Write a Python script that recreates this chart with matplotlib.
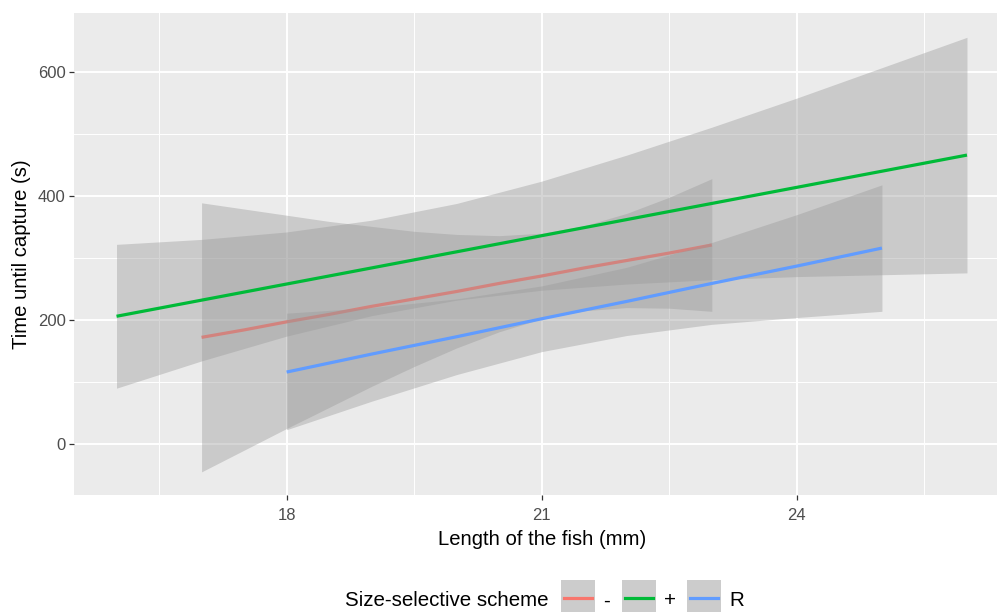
import numpy as np
import matplotlib
matplotlib.use("Agg")
import matplotlib.pyplot as plt
from matplotlib.patches import Rectangle
from matplotlib.lines import Line2D

plt.rcParams['font.family'] = ['Liberation Sans', 'DejaVu Sans']

len_minus = [17, 17.5, 18, 18.5, 19, 19.5, 20, 20.5, 21, 21.5, 22, 22.5, 23]
fit_minus = [172, 184, 197, 209, 222, 234, 246, 259, 271, 284, 296, 308, 321]
lo_minus = [-45, -10, 25, 59, 93, 125, 155, 181, 202, 215, 220, 219, 214]
hi_minus = [389, 379, 369, 359, 351, 343, 338, 336, 340, 352, 372, 398, 428]

len_plus = [16, 17, 18, 19, 20, 21, 22, 23, 24, 25, 26]
fit_plus = [206, 232, 258, 284, 310, 336, 362, 388, 414, 440, 466]
lo_plus = [90, 134, 174, 207, 232, 248, 258, 265, 270, 273, 276]
hi_plus = [322, 330, 342, 361, 388, 424, 466, 511, 558, 607, 656]

len_r = [18, 19, 20, 21, 22, 23, 24, 25]
fit_r = [116, 145, 173, 202, 230, 259, 287, 316]
lo_r = [23, 69, 112, 149, 175, 193, 204, 214]
hi_r = [211, 220, 234, 255, 285, 325, 370, 418]

groups = [
    ('-', '#F8766D', len_minus, fit_minus, lo_minus, hi_minus),
    ('+', '#00BA38', len_plus, fit_plus, lo_plus, hi_plus),
    ('R', '#619CFF', len_r, fit_r, lo_r, hi_r),
]

x_major = [18, 21, 24]
x_minor = [16.5, 19.5, 22.5, 25.5]
y_major = [0, 200, 400, 600]
y_minor = [100, 300, 500]

W, H = 997, 612
fig = plt.figure(figsize=(W / 100, H / 100), dpi=100)
ax = fig.add_axes([74 / W, 1 - 495 / H, 935.5 / W, 482 / H])
ax.set_facecolor('#EBEBEB')
for s in ax.spines.values():
    s.set_visible(False)

for v in x_minor:
    ax.axvline(v, color='white', lw=0.7, zorder=0)
for v in y_minor:
    ax.axhline(v, color='white', lw=0.7, zorder=0)
for v in x_major:
    ax.axvline(v, color='white', lw=1.4, zorder=0)
for v in y_major:
    ax.axhline(v, color='white', lw=1.4, zorder=0)

# ribbon then line per group, in factor order
for name, col, xs, fit, lo, hi in groups:
    ax.fill_between(xs, lo, hi, color='#999999', alpha=0.4, lw=0, zorder=2)
    ax.plot(xs, fit, color=col, lw=2.3, zorder=2, solid_capstyle='butt')

ax.set_xlim(15.5, 26.5)
ax.set_ylim(-82.3, 695.2)
ax.set_xticks(x_major)
ax.set_yticks(y_major)
ax.tick_params(length=3.5, width=0.9, color='#333333', labelcolor='#4D4D4D',
               labelsize=12)
ax.tick_params(axis='x', pad=6)
ax.tick_params(axis='y', pad=2.5)
ax.set_xlabel('Length of the fish (mm)', fontsize=14.6, labelpad=5)
ax.set_ylabel('Time until capture (s)', fontsize=14.6, labelpad=5)

# legend drawn in pixel space along the bottom
lg = fig.add_axes([0, 0, 1, 1])
lg.set_xlim(0, W)
lg.set_ylim(H, 0)
lg.axis('off')
lg.text(548, 606.5, 'Size-selective scheme', fontsize=14.8, ha='right', va='baseline')
key_left = [561, 622, 687]
for (name, col, *_), kx in zip(groups, key_left):
    lg.add_patch(Rectangle((kx, 580), 34, 34, facecolor='#CCCCCC', edgecolor='none'))
    lg.add_line(Line2D([kx + 3, kx + 31], [598, 598], color=col, lw=2.3))
    lg.text(kx + 42, 606.5, name, fontsize=14.8, ha='left', va='baseline')

fig.savefig('out.png', dpi=100)
